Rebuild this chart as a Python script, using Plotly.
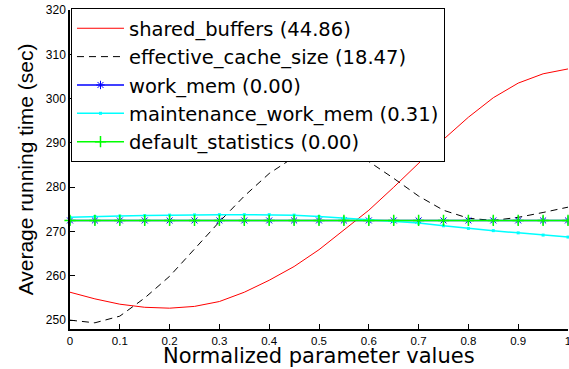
import plotly.graph_objects as go

x_vals = [0.0, 0.05, 0.1, 0.15, 0.2, 0.25, 0.3, 0.35, 0.4, 0.45, 0.5,
          0.55, 0.6, 0.65, 0.7, 0.75, 0.8, 0.85, 0.9, 0.95, 1.0]

shared_buffers = [256.3, 254.8, 253.6, 252.9, 252.7, 253.1, 254.2, 256.3, 259.0, 262.1, 265.9,
                  270.3, 274.8, 280.0, 285.4, 290.8, 295.8, 300.2, 303.5, 305.6, 306.7]
effective_cache_size = [250.0, 249.4, 250.9, 255.0, 259.9, 266.0, 272.2, 278.0, 283.1, 286.8, 288.5,
                        288.0, 285.8, 282.0, 278.0, 274.8, 273.0, 272.5, 273.2, 274.3, 275.5]
work_mem = [272.5] * 21
maintenance_work_mem = [273.2, 273.4, 273.5, 273.6, 273.7, 273.75, 273.8, 273.8, 273.8, 273.7, 273.4,
                        273.0, 272.6, 272.3, 271.9, 271.3, 270.7, 270.2, 269.7, 269.2, 268.75]
default_statistics = [272.5] * 21

names = ["shared_buffers (44.86)", "effective_cache_size (18.47)", "work_mem (0.00)",
         "maintenance_work_mem (0.31)", "default_statistics (0.00)"]
x_title = "Normalized parameter values"
y_title = "Average running time (sec)"

x_ticks = [0, 0.1, 0.2, 0.3, 0.4, 0.5, 0.6, 0.7, 0.8, 0.9, 1]
x_tick_text = ["0", "0.1", "0.2", "0.3", "0.4", "0.5", "0.6", "0.7", "0.8", "0.9", "1"]
y_ticks = [250, 260, 270, 280, 290, 300, 310, 320]

fig = go.Figure()
fig.add_trace(go.Scatter(x=x_vals, y=shared_buffers, name=names[0], mode="lines",
                         line=dict(color="rgb(255,0,0)", width=1), cliponaxis=False))
fig.add_trace(go.Scatter(x=x_vals, y=effective_cache_size, name=names[1], mode="lines",
                         line=dict(color="black", width=1, dash="7px,5px"), cliponaxis=False))
fig.add_trace(go.Scatter(x=x_vals, y=work_mem, name=names[2], mode="lines+markers",
                         line=dict(color="rgb(0,0,255)", width=1.5),
                         marker=dict(symbol="asterisk-open", size=7,
                                     line=dict(color="rgb(0,0,255)", width=1)),
                         cliponaxis=False))
fig.add_trace(go.Scatter(x=x_vals, y=maintenance_work_mem, name=names[3], mode="lines+markers",
                         line=dict(color="rgb(0,255,255)", width=1.5),
                         marker=dict(symbol="square", size=3, color="rgb(0,255,255)"),
                         cliponaxis=False))
fig.add_trace(go.Scatter(x=x_vals, y=default_statistics, name=names[4], mode="lines+markers",
                         line=dict(color="rgb(0,255,0)", width=1.5),
                         marker=dict(symbol="cross-thin-open", size=8,
                                     line=dict(color="rgb(0,255,0)", width=1.5)),
                         cliponaxis=False))

fig.add_annotation(text=x_title, xref="paper", yref="paper", x=0.5, y=0,
                   xanchor="center", yanchor="bottom", yshift=-40, showarrow=False,
                   borderpad=0,
                   font=dict(family="DejaVu Sans", size=21, color="black"))

fig.update_layout(
    width=569, height=369,
    margin=dict(l=70, r=1, t=10, b=40, autoexpand=False),
    paper_bgcolor="white", plot_bgcolor="white",
    showlegend=True,
    legend=dict(x=0.002, y=1.006, xanchor="left", yanchor="top",
                bgcolor="white", bordercolor="black", borderwidth=1,
                font=dict(family="DejaVu Sans", size=19.5, color="black"),
                itemwidth=47, tracegroupgap=0),
    xaxis=dict(range=[0, 1], tickvals=x_ticks, ticktext=x_tick_text,
               ticks="inside", ticklen=5, tickcolor="black",
               showline=True, linecolor="black", linewidth=1.5,
               showgrid=False, zeroline=False, automargin=False,
               ticklabeloverflow="allow",
               tickfont=dict(family="Liberation Sans", size=11.5, color="black")),
    yaxis=dict(range=[248, 320], tickvals=y_ticks,
               ticks="inside", ticklen=5, tickcolor="black",
               showline=True, linecolor="black", linewidth=1.5,
               showgrid=False, zeroline=False, automargin=False,
               ticklabeloverflow="allow",
               tickfont=dict(family="Liberation Sans", size=12, color="black"),
               title=dict(text=y_title, standoff=6,
                          font=dict(family="Liberation Sans", size=21, color="black"))),
)

fig.write_html("out.html", config={"displayModeBar": False},
               post_script="document.body.style.margin='0';")
